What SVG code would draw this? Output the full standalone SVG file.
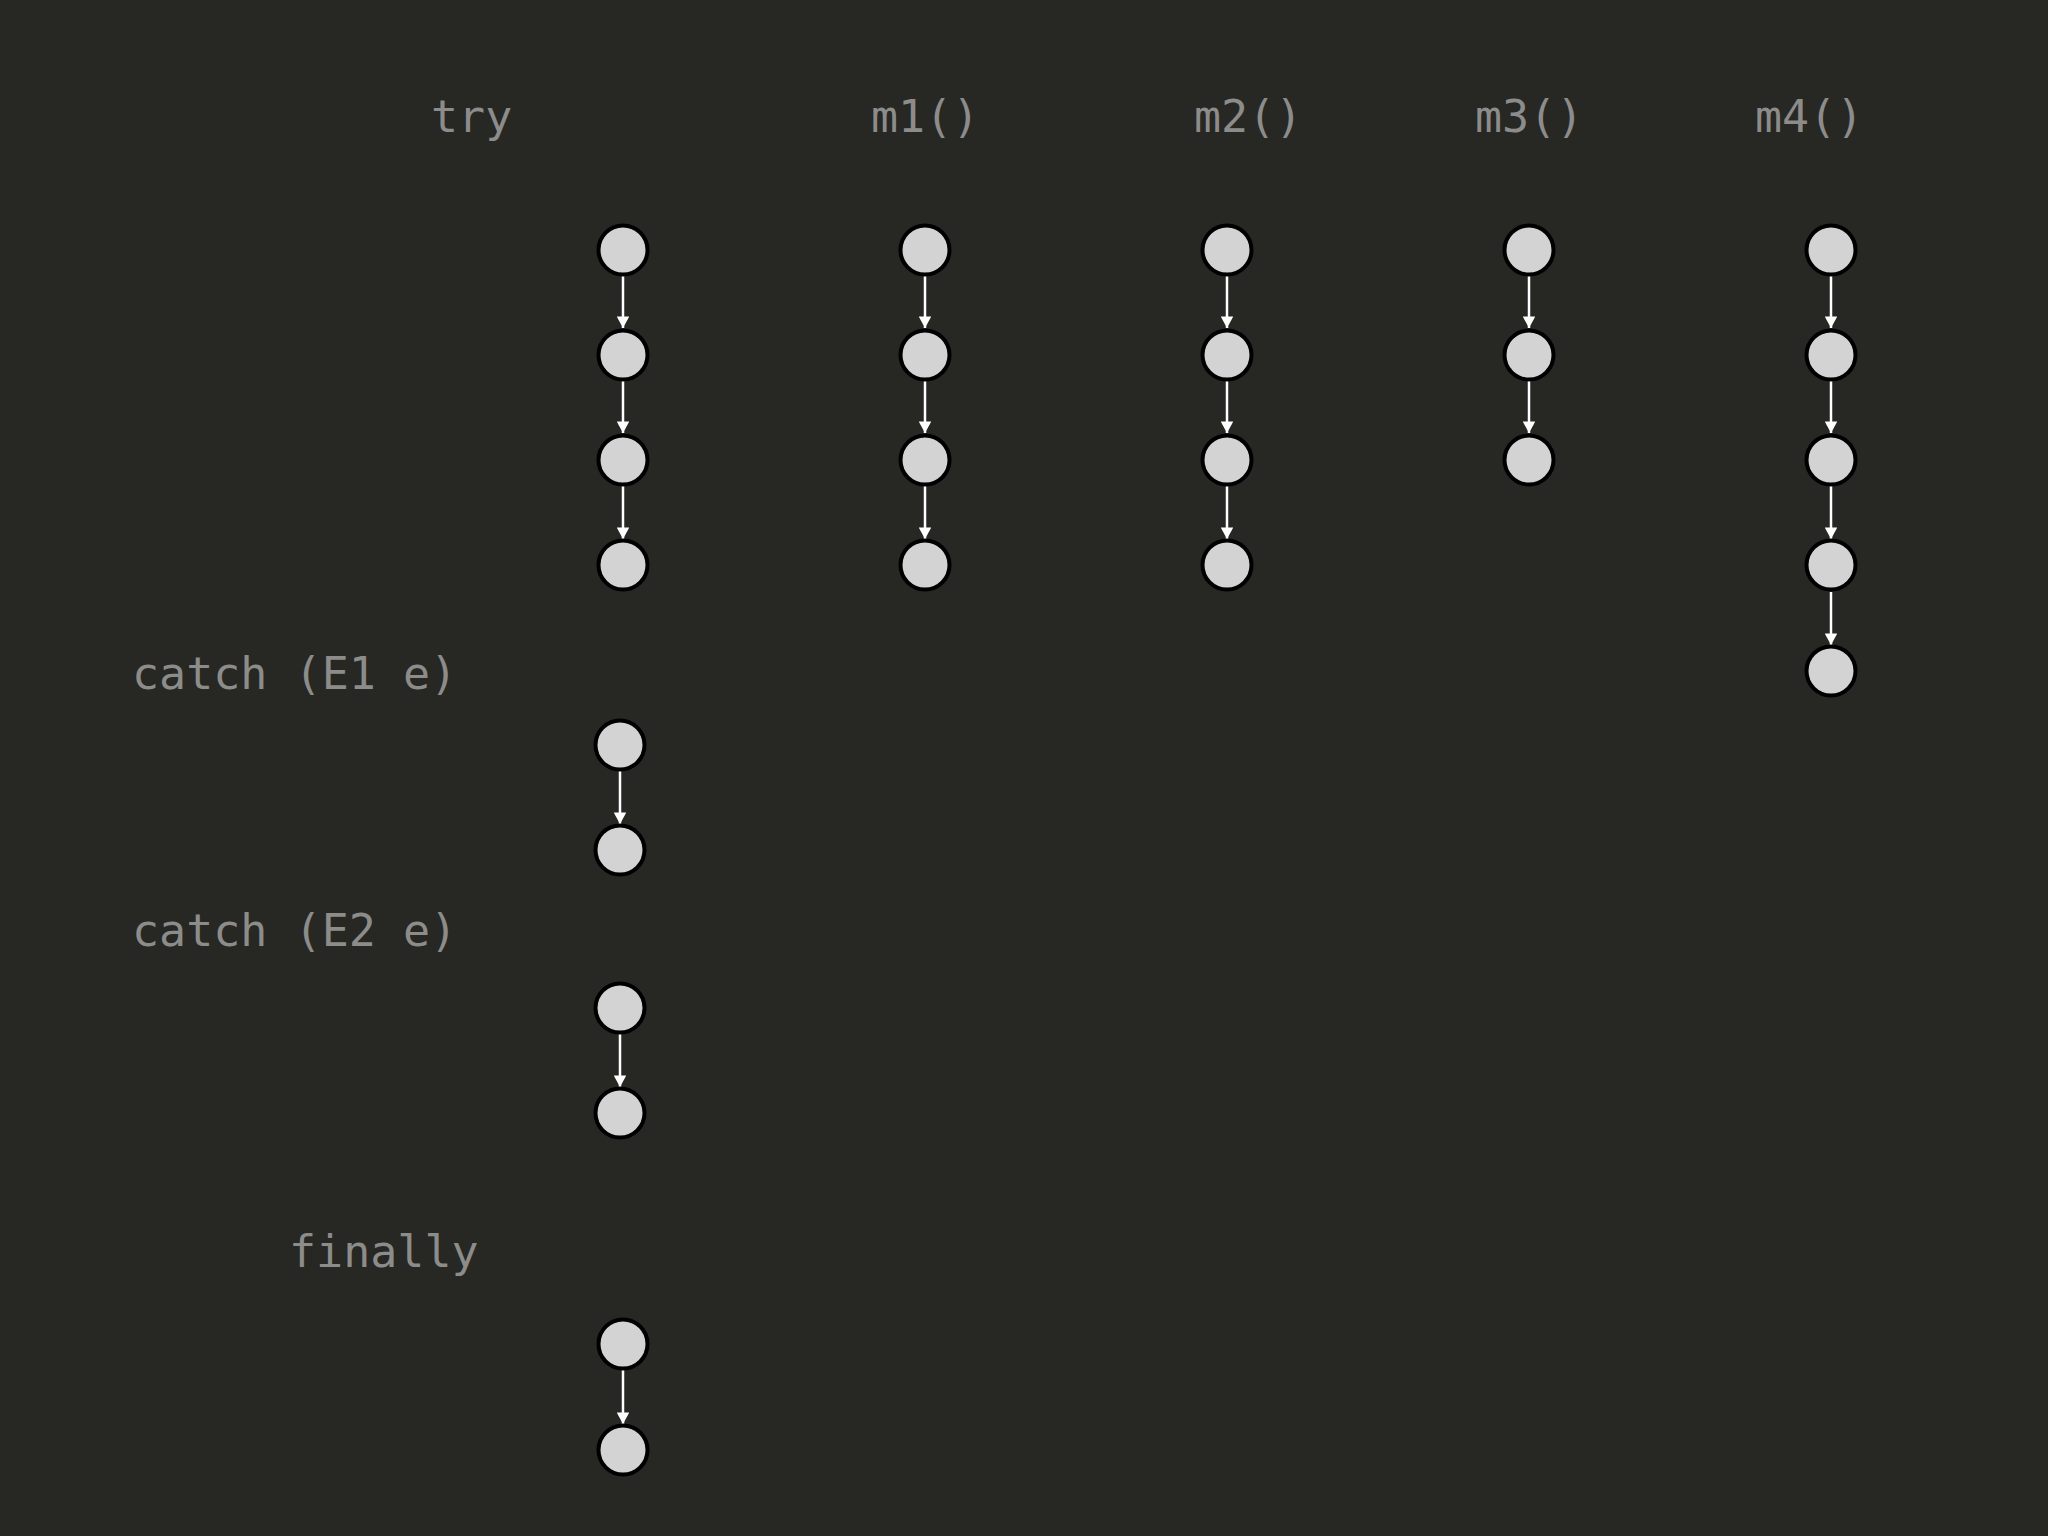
<svg xmlns="http://www.w3.org/2000/svg" width="2048" height="1536" viewBox="0 0 2048 1536">
<defs>
<style>
.lbl{font-family:"DejaVu Sans Mono","Liberation Mono",monospace;font-size:45px;fill:#8c8c8a}
.n{fill:#d3d3d3;stroke:#000;stroke-width:4}
.e{stroke:#fff;stroke-width:2.5;fill:none;marker-end:url(#ah)}
</style>
<marker id="ah" viewBox="0 0 12 13" refX="12" refY="6.5" markerWidth="13" markerHeight="12.5" markerUnits="userSpaceOnUse" orient="auto">
<path d="M0,0 L12,6.5 L0,13 Z" fill="#fff"/>
</marker>
</defs>
<rect width="2048" height="1536" fill="#272724"/>
<g id="labels">
<text class="lbl" x="431" y="132">try</text>
<text class="lbl" x="871" y="132">m1()</text>
<text class="lbl" x="1194" y="132">m2()</text>
<text class="lbl" x="1475" y="132">m3()</text>
<text class="lbl" x="1755" y="132">m4()</text>
<text class="lbl" x="132" y="689">catch (E1 e)</text>
<text class="lbl" x="132" y="946">catch (E2 e)</text>
<text class="lbl" x="289" y="1267">finally</text>
</g>
<g id="connectors">
<line class="e" x1="623" y1="276" x2="623" y2="328"/>
<line class="e" x1="623" y1="381" x2="623" y2="433"/>
<line class="e" x1="623" y1="486" x2="623" y2="539"/>
<line class="e" x1="925" y1="276" x2="925" y2="328"/>
<line class="e" x1="925" y1="381" x2="925" y2="433"/>
<line class="e" x1="925" y1="486" x2="925" y2="539"/>
<line class="e" x1="1227" y1="276" x2="1227" y2="328"/>
<line class="e" x1="1227" y1="381" x2="1227" y2="433"/>
<line class="e" x1="1227" y1="486" x2="1227" y2="539"/>
<line class="e" x1="1529" y1="276" x2="1529" y2="328"/>
<line class="e" x1="1529" y1="381" x2="1529" y2="433"/>
<line class="e" x1="1831" y1="276" x2="1831" y2="328"/>
<line class="e" x1="1831" y1="381" x2="1831" y2="433"/>
<line class="e" x1="1831" y1="486" x2="1831" y2="539"/>
<line class="e" x1="1831" y1="592" x2="1831" y2="645"/>
<line class="e" x1="620" y1="771" x2="620" y2="824"/>
<line class="e" x1="620" y1="1034" x2="620" y2="1087"/>
<line class="e" x1="623" y1="1370" x2="623" y2="1424"/>
</g>
<g id="try-1"><circle class="n" cx="623" cy="250" r="24.5"/></g>
<g id="try-2"><circle class="n" cx="623" cy="355" r="24.5"/></g>
<g id="try-3"><circle class="n" cx="623" cy="460" r="24.5"/></g>
<g id="try-4"><circle class="n" cx="623" cy="565" r="24.5"/></g>
<g id="m1-1"><circle class="n" cx="925" cy="250" r="24.5"/></g>
<g id="m1-2"><circle class="n" cx="925" cy="355" r="24.5"/></g>
<g id="m1-3"><circle class="n" cx="925" cy="460" r="24.5"/></g>
<g id="m1-4"><circle class="n" cx="925" cy="565" r="24.5"/></g>
<g id="m2-1"><circle class="n" cx="1227" cy="250" r="24.5"/></g>
<g id="m2-2"><circle class="n" cx="1227" cy="355" r="24.5"/></g>
<g id="m2-3"><circle class="n" cx="1227" cy="460" r="24.5"/></g>
<g id="m2-4"><circle class="n" cx="1227" cy="565" r="24.5"/></g>
<g id="m3-1"><circle class="n" cx="1529" cy="250" r="24.5"/></g>
<g id="m3-2"><circle class="n" cx="1529" cy="355" r="24.5"/></g>
<g id="m3-3"><circle class="n" cx="1529" cy="460" r="24.5"/></g>
<g id="m4-1"><circle class="n" cx="1831" cy="250" r="24.5"/></g>
<g id="m4-2"><circle class="n" cx="1831" cy="355" r="24.5"/></g>
<g id="m4-3"><circle class="n" cx="1831" cy="460" r="24.5"/></g>
<g id="m4-4"><circle class="n" cx="1831" cy="565" r="24.5"/></g>
<g id="m4-5"><circle class="n" cx="1831" cy="671" r="24.5"/></g>
<g id="c1-1"><circle class="n" cx="620" cy="745" r="24.5"/></g>
<g id="c1-2"><circle class="n" cx="620" cy="850" r="24.5"/></g>
<g id="c2-1"><circle class="n" cx="620" cy="1008" r="24.5"/></g>
<g id="c2-2"><circle class="n" cx="620" cy="1113" r="24.5"/></g>
<g id="f-1"><circle class="n" cx="623" cy="1344" r="24.5"/></g>
<g id="f-2"><circle class="n" cx="623" cy="1450" r="24.5"/></g>
</svg>
